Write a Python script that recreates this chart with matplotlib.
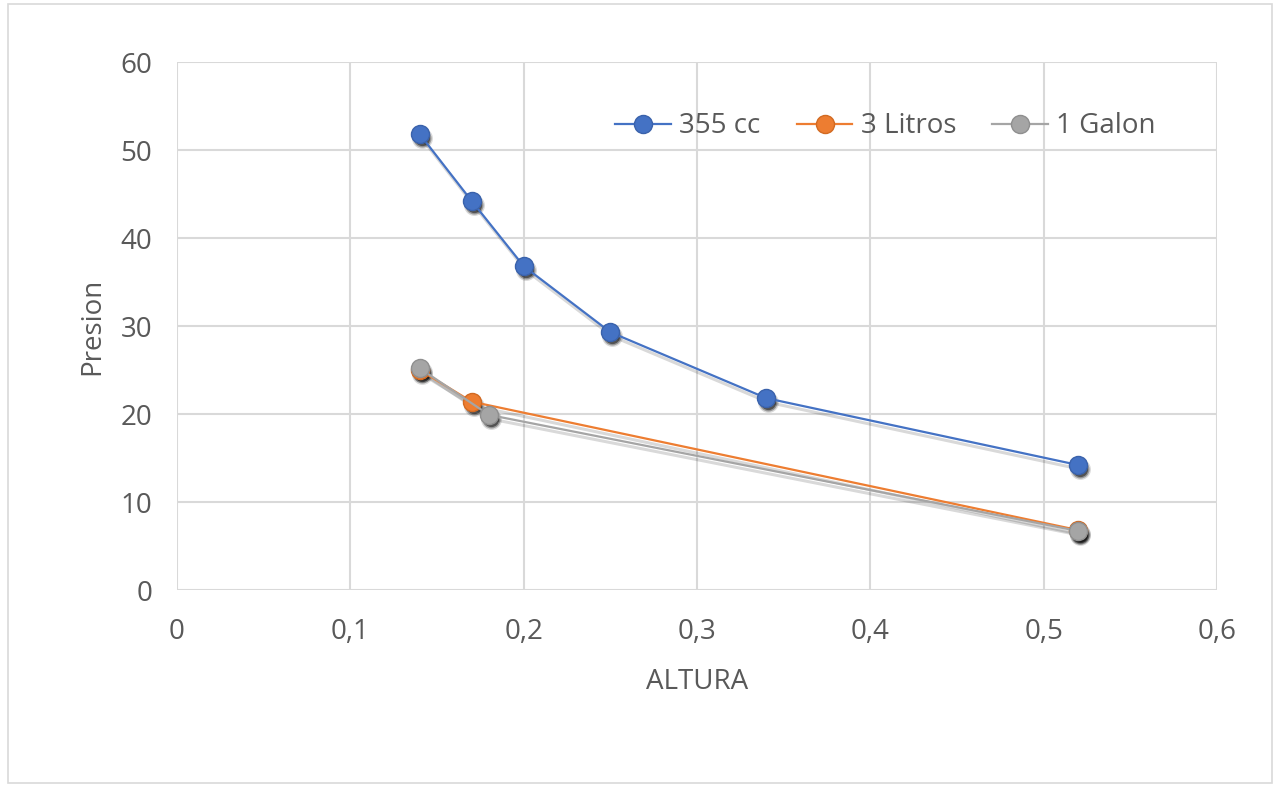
import matplotlib
matplotlib.use("Agg")
import matplotlib.pyplot as plt
from matplotlib.patches import Rectangle
from matplotlib.transforms import offset_copy
from matplotlib.ticker import FuncFormatter, MultipleLocator

plt.rcParams['font.family'] = ['Open Sans', 'DejaVu Sans']

x_355 = [0.14, 0.17, 0.20, 0.25, 0.34, 0.52]
y_355 = [51.8, 44.2, 36.8, 29.3, 21.8, 14.2]
x_3l = [0.14, 0.17, 0.52]
y_3l = [25.0, 21.4, 6.8]
x_1g = [0.14, 0.18, 0.52]
y_1g = [25.2, 19.9, 6.7]

series = [
    ("355 cc", x_355, y_355, "#4472C4", "#3a62ab"),
    ("3 Litros", x_3l, y_3l, "#ED7D31", "#d26a22"),
    ("1 Galon", x_1g, y_1g, "#A5A5A5", "#8f8f8f"),
]

fig = plt.figure(figsize=(12.8, 7.87), dpi=100)
ax = fig.add_axes([0.1383, 0.2503, 0.8125, 0.6709])

text_color = "#595959"
grid_color = "#D9D9D9"
FS = 20

shadow_tr = offset_copy(ax.transData, fig=fig, x=1.5, y=-3.0, units='points')

for label, xs, ys, col, ecol in series:
    # soft shadow
    ax.plot(xs, ys, color='black', lw=2.2, alpha=0.15, transform=shadow_tr, zorder=2,
            solid_capstyle='round')
    for ms, a in [(15, 0.15), (13, 0.3), (11, 0.45)]:
        ax.plot(xs, ys, ls='none', marker='o', markersize=ms, color='black',
                markeredgewidth=0, alpha=a, transform=shadow_tr, zorder=2)
    ax.plot(xs, ys, color=col, lw=1.6, marker='o', markersize=13,
            markerfacecolor=col, markeredgecolor=ecol, markeredgewidth=1,
            label=label, zorder=3)

ax.set_xlim(0, 0.6)
ax.set_ylim(0, 60)
ax.xaxis.set_major_locator(MultipleLocator(0.1))
ax.yaxis.set_major_locator(MultipleLocator(10))
ax.xaxis.set_major_formatter(FuncFormatter(lambda v, p: ("%g" % round(v, 2)).replace('.', ',')))
ax.grid(True, color=grid_color, lw=1.5)
ax.set_axisbelow(True)
for s in ax.spines.values():
    s.set_visible(False)
ax.tick_params(length=0, labelsize=FS, colors=text_color)
ax.tick_params(axis='x', pad=20)
ax.tick_params(axis='y', pad=18)
ax.set_xlabel("ALTURA", fontsize=FS, color=text_color, labelpad=16)
ax.set_ylabel("Presion", fontsize=FS, color=text_color, labelpad=10)

leg = ax.legend(loc='upper right', bbox_to_anchor=(0.965, 0.952), ncol=3, frameon=False,
                fontsize=FS, labelcolor=text_color, handlelength=2.0, columnspacing=1.3,
                handletextpad=0.3)

fig.patches.append(Rectangle((0.006, 0.005), 0.988, 0.99, transform=fig.transFigure,
                             fill=False, edgecolor="#D9D9D9", lw=1.2))

fig.savefig("out.png", dpi=100)
